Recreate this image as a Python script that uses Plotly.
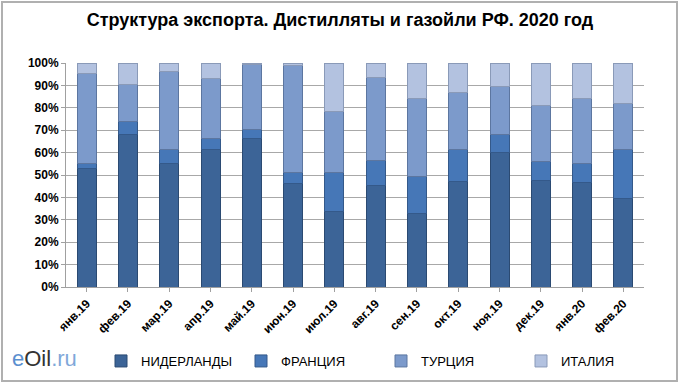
import plotly.graph_objects as go

months = ["янв.19", "фев.19", "мар.19", "апр.19", "май.19", "июн.19", "июл.19",
          "авг.19", "сен.19", "окт.19", "ноя.19", "дек.19", "янв.20", "фев.20"]
netherlands = [53, 68, 55, 61.5, 66.5, 46, 33.5, 45.5, 33, 47, 60, 47.5, 46.5, 39.5]
france = [2, 6, 6.5, 5, 4, 5, 17.5, 11, 16.5, 14.5, 8, 8.5, 8.5, 22]
turkey = [40.5, 16.5, 34.5, 26.5, 29, 48, 27.5, 37, 34.5, 25.5, 21.5, 25, 29, 20.5]
italy = [4.5, 9.5, 4, 7, 0.5, 1, 21.5, 6.5, 16, 13, 10.5, 19, 16, 18]

series = [
    ("НИДЕРЛАНДЫ", netherlands, "#3C6497", "#2B4A72"),
    ("ФРАНЦИЯ", france, "#4677B7", "#34598A"),
    ("ТУРЦИЯ", turkey, "#7C9ACB", "#5C76A0"),
    ("ИТАЛИЯ", italy, "#B3C2E0", "#8A9AB8"),
]

fig = go.Figure()
for name, vals, col, edge in series:
    fig.add_trace(go.Bar(
        x=months, y=vals, name=name, width=0.46,
        marker=dict(color=col, line=dict(color=edge, width=1)),
    ))

L, R, T, B = 66, 36, 63, 97
W, H = 680, 384
pw, ph = W - L - R, H - T - B

def px(x):
    return (x - L) / pw

def py(y):
    return (H - B - y) / ph

fig.update_layout(
    width=W, height=H,
    barmode="stack",
    margin=dict(l=L, r=R, t=T, b=B, autoexpand=False),
    paper_bgcolor="white",
    plot_bgcolor="white",
    font=dict(family="Liberation Sans, Arial, sans-serif", color="#000000"),
    title=dict(
        text="<b>Структура экспорта. Дистилляты и газойли РФ. 2020 год</b>",
        x=0.5, xanchor="center", xref="container",
        y=1 - 20 / H, yanchor="middle", yref="container",
        font=dict(size=18, color="#000000"),
    ),
    showlegend=True,
    legend=dict(
        orientation="h",
        x=px(101), xanchor="left",
        y=py(361), yanchor="middle",
        entrywidth=95, entrywidthmode="pixels",
        itemwidth=30,
        font=dict(size=13, color="#000000"),
        traceorder="normal",
        bgcolor="rgba(0,0,0,0)",
    ),
    shapes=[
        dict(type="rect", xref="paper", yref="paper",
             x0=px(2), x1=px(677), y0=py(381), y1=py(2),
             line=dict(color="#B0B0B0", width=2), fillcolor="rgba(0,0,0,0)",
             layer="below"),
    ],
    annotations=[
        dict(xref="paper", yref="paper", x=px(10), y=py(358), xanchor="left",
             yanchor="middle", showarrow=False,
             text="<span style='color:#5B8FCF'>e</span><span style='color:#333333'>Oil</span><span style='color:#7FA7D9'>.ru</span>",
             font=dict(size=22, family="Liberation Sans, Arial, sans-serif")),
    ],
)

fig.update_xaxes(
    tickangle=-45,
    tickvals=months,
    ticktext=["<b>%s</b>" % m for m in months],
    tickfont=dict(size=12, color="#000000", family="Liberation Sans, Arial, sans-serif"),
    showline=True, linecolor="#A0A0A0", linewidth=1,
    ticks="outside", ticklen=4, tickcolor="#A0A0A0",
    showgrid=False, automargin=False,
)
fig.update_yaxes(
    range=[0, 100],
    tickvals=[0, 10, 20, 30, 40, 50, 60, 70, 80, 90, 100],
    ticktext=["<b>%d%%</b>" % v for v in range(0, 101, 10)],
    tickfont=dict(size=12, color="#000000"),
    showgrid=True, gridcolor="#A8A8A8", gridwidth=1,
    showline=True, linecolor="#A0A0A0", linewidth=1,
    ticks="outside", ticklen=4, tickcolor="#A0A0A0",
    zeroline=False, automargin=False,
)

fig.write_html("out.html", config={"displayModeBar": False},
               post_script="document.body.style.margin='0';")
